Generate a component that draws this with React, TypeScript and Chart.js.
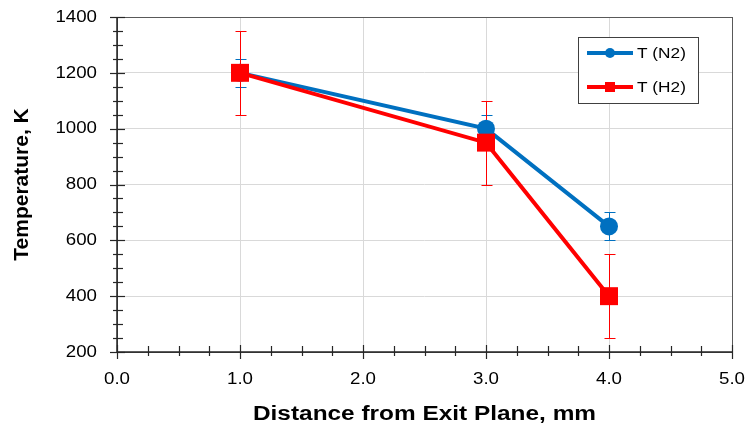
import React, { useEffect, useRef } from "react";
import { Chart, registerables } from "chart.js";

Chart.register(...registerables);

const xValues = [1, 3, 4];
const tN2 = [1200, 1000, 650];
const tN2Err = [50, 50, 50];
const tH2 = [1200, 950, 400];
const tH2Err = [150, 150, 150];
const seriesLabels = ["T (N2)", "T (H2)"];
const xTickValues = [0, 1, 2, 3, 4, 5];
const yTickValues = [200, 400, 600, 800, 1000, 1200, 1400];
const xTitle = "Distance from Exit Plane, mm";
const yTitle = "Temperature, K";

const BLUE = "#0070C0";
const RED = "#FF0000";
const FONT = "'Liberation Sans', Arial, sans-serif";

function stretchedText(ctx: any, text: string, x: number, y: number, align: string, font: string, sx: number) {
  ctx.save();
  ctx.translate(x, y);
  ctx.scale(sx, 1);
  ctx.font = font;
  ctx.textAlign = align;
  ctx.textBaseline = "middle";
  ctx.fillText(text, 0, 0);
  ctx.restore();
}

const errorBarPlugin = {
  id: "errorBars",
  beforeDatasetsDraw(chart: any) {
    const ctx = chart.ctx;
    const xs = chart.scales.x;
    const ys = chart.scales.y;
    const sets = [
      { vals: tN2, err: tN2Err, color: BLUE },
      { vals: tH2, err: tH2Err, color: RED },
    ];
    ctx.save();
    ctx.lineWidth = 1;
    sets.forEach((s) => {
      ctx.strokeStyle = s.color;
      s.vals.forEach((v, i) => {
        const px = Math.round(xs.getPixelForValue(xValues[i])) + 0.5;
        const top = Math.round(ys.getPixelForValue(v + s.err[i])) + 0.5;
        const bot = Math.round(ys.getPixelForValue(v - s.err[i])) + 0.5;
        ctx.beginPath();
        ctx.moveTo(px, top);
        ctx.lineTo(px, bot);
        ctx.moveTo(px - 5, top);
        ctx.lineTo(px + 6, top);
        ctx.moveTo(px - 5, bot);
        ctx.lineTo(px + 6, bot);
        ctx.stroke();
      });
    });
    ctx.restore();
  },
};

const framePlugin = {
  id: "frame",
  afterDraw(chart: any) {
    const ctx = chart.ctx;
    const a = chart.chartArea;
    const xs = chart.scales.x;
    const ys = chart.scales.y;
    ctx.save();
    ctx.strokeStyle = "#595959";
    ctx.lineWidth = 1;
    ctx.strokeRect(Math.round(a.left) + 0.5, Math.round(a.top) + 0.5, Math.round(a.right - a.left), Math.round(a.bottom - a.top));
    ctx.strokeStyle = "#262626";
    ctx.lineWidth = 1.5;
    ctx.beginPath();
    ctx.moveTo(a.left, a.top);
    ctx.lineTo(a.left, a.bottom);
    ctx.lineTo(a.right, a.bottom);
    ctx.stroke();
    ctx.lineWidth = 1.2;
    for (let v = 200; v <= 1400; v += 50) {
      const py = Math.round(ys.getPixelForValue(v)) + 0.5;
      const major = v % 200 === 0;
      ctx.beginPath();
      ctx.moveTo(a.left - (major ? 7 : 4), py);
      ctx.lineTo(a.left + (major ? 8 : 6), py);
      ctx.stroke();
    }
    for (let v = 0; v <= 5; v += 0.25) {
      const px = Math.round(xs.getPixelForValue(v)) + 0.5;
      const major = Math.abs(v - Math.round(v)) < 1e-6;
      ctx.beginPath();
      ctx.moveTo(px, a.bottom - (major ? 7 : 6));
      ctx.lineTo(px, a.bottom + (major ? 7 : 4));
      ctx.stroke();
    }
    // tick labels
    ctx.fillStyle = "#000";
    const tickFont = `17px ${FONT}`;
    yTickValues.forEach((v) => {
      stretchedText(ctx, String(v), a.left - 20, ys.getPixelForValue(v), "right", tickFont, 1.1);
    });
    xTickValues.forEach((v) => {
      stretchedText(ctx, v.toFixed(1), xs.getPixelForValue(v), 379, "center", tickFont, 1.1);
    });
    // titles
    stretchedText(ctx, xTitle, (a.left + a.right) / 2, 414, "center", `bold 20px ${FONT}`, 1.22);
    ctx.save();
    ctx.translate(22, (a.top + a.bottom) / 2);
    ctx.rotate(-Math.PI / 2);
    ctx.font = `bold 21px ${FONT}`;
    ctx.textAlign = "center";
    ctx.textBaseline = "middle";
    ctx.fillText(yTitle, 0, 0);
    ctx.restore();
    // legend
    const lx = 578.5, ly = 37.5, lw = 120, lh = 66;
    ctx.fillStyle = "#fff";
    ctx.fillRect(lx, ly, lw, lh);
    ctx.strokeStyle = "#404040";
    ctx.lineWidth = 1;
    ctx.strokeRect(lx, ly, lw, lh);
    const items = [
      { label: seriesLabels[0], color: BLUE, y: 53, shape: "circle" },
      { label: seriesLabels[1], color: RED, y: 87, shape: "rect" },
    ];
    items.forEach((it) => {
      ctx.strokeStyle = it.color;
      ctx.fillStyle = it.color;
      ctx.lineWidth = 4;
      ctx.beginPath();
      ctx.moveTo(587, it.y);
      ctx.lineTo(633, it.y);
      ctx.stroke();
      if (it.shape === "circle") {
        ctx.beginPath();
        ctx.arc(610, it.y, 5, 0, Math.PI * 2);
        ctx.fill();
      } else {
        ctx.fillRect(605, it.y - 5, 10, 10);
      }
      ctx.fillStyle = "#000";
      stretchedText(ctx, it.label, 637, it.y + 1, "left", `15px ${FONT}`, 1.15);
    });
    ctx.restore();
  },
};

export default function App() {
  const ref = useRef<HTMLCanvasElement>(null);
  useEffect(() => {
    document.body.style.margin = "0";
    const zeroPad = (s: any) => {
      s.paddingTop = 0;
      s.paddingBottom = 0;
      s.paddingLeft = 0;
      s.paddingRight = 0;
    };
    const chart = new Chart(ref.current as HTMLCanvasElement, {
      type: "line",
      data: {
        datasets: [
          {
            label: seriesLabels[0],
            data: xValues.map((x, i) => ({ x, y: tN2[i] })),
            borderColor: BLUE,
            backgroundColor: BLUE,
            borderWidth: 4,
            pointStyle: "circle",
            pointRadius: 9,
            pointHoverRadius: 9,
            pointBorderWidth: 0,
            order: 1,
          },
          {
            label: seriesLabels[1],
            data: xValues.map((x, i) => ({ x, y: tH2[i] })),
            borderColor: RED,
            backgroundColor: RED,
            borderWidth: 4,
            pointStyle: "rect",
            pointRadius: 12.7,
            pointHoverRadius: 12.7,
            pointBorderWidth: 0,
            order: 0,
          },
        ],
      },
      options: {
        responsive: false,
        animation: false,
        devicePixelRatio: 1,
        layout: { padding: { top: 17, right: 21, left: 0, bottom: 0 } },
        plugins: { legend: { display: false }, tooltip: { enabled: false } },
        scales: {
          x: {
            type: "linear",
            min: 0,
            max: 5,
            border: { display: false },
            grid: { color: "#d9d9d9", drawTicks: false, lineWidth: 1 },
            ticks: { stepSize: 1, display: false },
            afterFit: (s: any) => {
              s.height = 82;
              zeroPad(s);
            },
          },
          y: {
            min: 200,
            max: 1400,
            border: { display: false },
            grid: { color: "#d9d9d9", drawTicks: false, lineWidth: 1 },
            ticks: { stepSize: 200, display: false },
            afterFit: (s: any) => {
              s.width = 117;
              zeroPad(s);
            },
          },
        },
      },
      plugins: [errorBarPlugin, framePlugin],
    } as any);
    return () => chart.destroy();
  }, []);
  return (
    <div style={{ position: "absolute", left: 0, top: 0, width: 753, height: 434 }}>
      <canvas ref={ref} width={753} height={434} />
    </div>
  );
}
